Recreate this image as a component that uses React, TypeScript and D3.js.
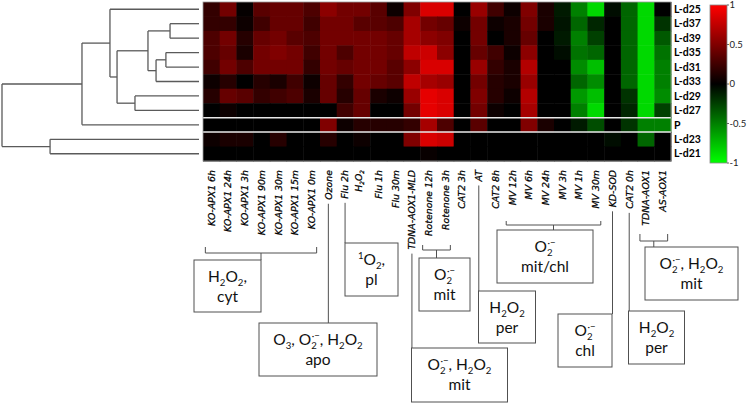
import React, { useEffect, useRef } from "react";
import * as d3 from "d3";

const W = 747;
const H = 403;

const rowLabels = ["L-d25", "L-d37", "L-d39", "L-d35", "L-d31", "L-d33", "L-d29", "L-d27", "P", "L-d23", "L-d21"];

const colLabels = [
  "KO-APX1 6h", "KO-APX1 24h", "KO-APX1 3h", "KO-APX1 90m", "KO-APX1 30m", "KO-APX1 15m", "KO-APX1 0m",
  "Ozone", "Flu 2h", "H2O2", "Flu 1h", "Flu 30m", "TDNA-AOX1-MLD", "Rotenone 12h", "Rotenone 3h",
  "CAT2 3h", "AT", "CAT2 8h", "MV 12h", "MV 6h", "MV 24h", "MV 3h", "MV 1h", "MV 30m",
  "KD-SOD", "CAT2 0h", "TDNA-AOX1", "AS-AOX1",
];

// one row per line, 28 values each (log-ratio, -1..1)
const values: number[][] = [
  [0.2, 0.45, 0.02, 0.35, 0.4, 0.4, 0.3, 0.55, 0.45, 0.45, 0.35, 0.05, 0.5, 0.85, 0.85, 0, 0.6, 0.25, 0.05, 0.5, 0.1, -0.1, -0.5, -0.85, -0.05, -0.4, -0.85, 0],
  [0.2, 0.2, 0.05, 0.25, 0.4, 0.4, 0.25, 0.45, 0.45, 0.35, 0.35, 0.3, 0.65, 0.45, 0.4, 0.05, 0.45, 0.05, 0.1, 0.45, 0.1, -0.08, -0.4, -0.15, 0, -0.4, -0.85, -0.2],
  [0.3, 0.45, 0.15, 0.4, 0.45, 0.35, 0.3, 0.45, 0.45, 0.45, 0.45, 0.4, 0.65, 0.55, 0.5, 0, 0.45, 0, 0.1, 0.4, 0, -0.1, -0.5, -0.25, 0, -0.4, -0.85, -0.35],
  [0.3, 0.4, 0.1, 0.45, 0.5, 0.45, 0.25, 0.45, 0.3, 0.45, 0.45, 0.4, 0.75, 0.8, 0.55, 0, 0.4, 0.25, 0.05, 0.55, 0, -0.05, -0.45, -0.4, 0, -0.4, -0.85, -0.45],
  [0.25, 0.45, 0.3, 0.45, 0.45, 0.45, 0.2, 0.45, 0.4, 0.45, 0.45, 0.35, 0.55, 0.85, 0.85, 0, 0.6, 0.2, 0.1, 0.7, 0, 0, -0.55, -0.75, 0, -0.4, -0.85, -0.5],
  [0.05, 0.15, 0, 0.15, 0.1, 0.25, 0.05, 0.4, 0.2, 0.45, 0.4, 0.35, 0.75, 0.65, 0.6, 0, 0.45, 0.15, 0.1, 0.6, 0, 0, -0.4, -0.55, 0, -0.4, -0.85, -0.5],
  [0.15, 0.4, 0.35, 0.2, 0.25, 0.3, 0.1, 0.4, 0.15, 0.4, 0.1, 0.05, 0.6, 0.9, 0.85, 0, 0.5, 0.15, 0.05, 0.7, 0, 0, -0.6, -0.75, 0, -0.2, -0.85, -0.55],
  [0, 0.05, 0, 0, 0, 0, 0, 0, 0.25, 0.4, 0, 0, 0.45, 0.9, 0.85, 0, 0.45, 0.05, 0, 0.65, 0, 0, -0.5, -0.85, 0, -0.15, -0.85, -0.25],
  [0, 0, 0, 0, 0, 0, 0, 0.5, 0.05, 0.15, 0.15, 0.15, 0.2, 0.65, 0.3, 0, 0.35, 0, 0, 0.5, 0.1, 0, -0.1, -0.3, 0, -0.2, -0.5, -0.5],
  [0.05, 0.1, 0.1, 0, 0.15, 0, 0, 0.15, 0, 0.05, 0, 0, 0.5, 0.85, 0.8, 0, 0, 0, 0, 0, 0, 0, 0, 0, -0.05, 0, -0.4, 0],
  [0, 0, 0, 0, 0, 0, 0, 0, 0, 0, 0, 0, 0, 0.03, 0, 0, 0, 0, 0, 0, 0, 0, 0, 0, 0, 0, 0, 0],
];

const colorTicks = [1, 0.5, 0, -0.5, -1];

// clustering tree, h = merge distance (root = 1)
interface TreeNode { name?: string; h?: number; children?: TreeNode[] }
const tree: TreeNode = {
  h: 1.0,
  children: [
    {
      h: 0.594,
      children: [
        {
          h: 0.452,
          children: [
            { name: "L-d25" },
            {
              h: 0.416,
              children: [
                {
                  h: 0.259,
                  children: [
                    { h: 0.147, children: [{ name: "L-d37" }, { name: "L-d39" }] },
                    {
                      h: 0.218,
                      children: [
                        { h: 0.168, children: [{ name: "L-d35" }, { name: "L-d31" }] },
                        { name: "L-d33" },
                      ],
                    },
                  ],
                },
                { h: 0.325, children: [{ name: "L-d29" }, { name: "L-d27" }] },
              ],
            },
          ],
        },
        { name: "P" },
      ],
    },
    { h: 0.756, children: [{ name: "L-d23" }, { name: "L-d21" }] },
  ],
};

type Part = [string, "n" | "sub" | "sup" | "over"];
const O2r: Part[] = [["O", "n"], ["2", "sub"], ["·−", "over"]];
const H2O2: Part[] = [["H", "n"], ["2", "sub"], ["O", "n"], ["2", "sub"]];

const boxes: { x: number; y: number; w: number; h: number; lines: Part[][] }[] = [
  { x: 194, y: 260, w: 67, h: 52, lines: [[...H2O2, [",", "n"]], [["cyt", "n"]]] },
  { x: 259, y: 323, w: 118, h: 53, lines: [[["O", "n"], ["3", "sub"], [", ", "n"], ...O2r, [", ", "n"], ...H2O2], [["apo", "n"]]] },
  { x: 345, y: 243, w: 53, h: 53, lines: [[["1", "sup"], ["O", "n"], ["2", "sub"], [",", "n"]], [["pl", "n"]]] },
  { x: 419, y: 258, w: 51, h: 53, lines: [O2r, [["mit", "n"]]] },
  { x: 411.5, y: 348, w: 96, h: 54, lines: [[...O2r, [", ", "n"], ...H2O2], [["mit", "n"]]] },
  { x: 497, y: 230, w: 96, h: 53, lines: [O2r, [["mit/chl", "n"]]] },
  { x: 478.5, y: 291, w: 57, h: 52, lines: [H2O2, [["per", "n"]]] },
  { x: 558, y: 314, w: 54, h: 53, lines: [O2r, [["chl", "n"]]] },
  { x: 628.5, y: 311, w: 56, h: 53, lines: [H2O2, [["per", "n"]]] },
  { x: 645, y: 247, w: 93, h: 53, lines: [[...O2r, [", ", "n"], ...H2O2], [["mit", "n"]]] },
];

// single leader lines: column -> y where it meets a box
const leaders = [
  { col: 7, y2: 323 },
  { col: 8, y2: 243 },
  { col: 12, y2: 348 },
  { col: 16, y2: 291 },
  { col: 24, y2: 314 },
  { col: 25, y2: 311 },
];

const brackets = [
  { from: 0, to: 6, y: 253, tick: 6, drop: 260 },
  { from: 13, to: 14, y: 250, tick: 5, drop: 258 },
  { from: 18, to: 23, y: 225, tick: 4, drop: 230 },
  { from: 26, to: 27, y: 241, tick: 7, drop: 247 },
];

function rich(text: d3.Selection<SVGTextElement, unknown, null, undefined>, parts: Part[], fs: number) {
  let shift = 0;
  parts.forEach(([t, m]) => {
    const target = m === "sub" ? fs * 0.28 : m === "sup" || m === "over" ? -fs * 0.4 : 0;
    const ts = text
      .append("tspan")
      .attr("dy", target - shift)
      .attr("font-size", m === "n" ? fs : fs * 0.62)
      .text(t);
    if (m === "over") ts.attr("dx", -fs * 0.33);
    shift = target;
  });
}

const Chart: React.FC = () => {
  const svgRef = useRef<SVGSVGElement>(null);

  useEffect(() => {
    if (!svgRef.current) return;
    const svg = d3.select(svgRef.current);
    svg.selectAll("*").remove();

    const x = d3.scaleBand<number>().domain(d3.range(colLabels.length)).range([203, 671]);
    const y = d3.scaleBand<string>().domain(rowLabels).range([2, 161]);
    const color = d3.scaleLinear<string>().domain([-1, 0, 1]).range(["#00ff00", "#000000", "#ff0000"]);
    const cx = (i: number) => (x(i) as number) + x.bandwidth() / 2;
    const lineColor = "#505050";

    // Heatmap cells
    const g = svg.append("g");
    values.forEach((row, r) => {
      row.forEach((v, c) => {
        g.append("rect")
          .attr("x", x(c) as number)
          .attr("y", y(rowLabels[r]) as number)
          .attr("width", x.bandwidth() + 0.5)
          .attr("height", y.bandwidth() + 0.5)
          .attr("fill", color(v));
      });
    });
    // white separators around P
    [8, 9].forEach((r) => {
      const yy = y(rowLabels[r]) as number;
      svg.append("line")
        .attr("x1", 203).attr("x2", 671).attr("y1", yy).attr("y2", yy)
        .attr("stroke", "#e8e8e8").attr("stroke-width", 1.5);
    });
    svg.append("rect")
      .attr("x", 203).attr("y", 2).attr("width", 468).attr("height", 159)
      .attr("fill", "none").attr("stroke", "#999").attr("stroke-width", 0.8);

    // Row labels
    rowLabels.forEach((lab) => {
      svg.append("text")
        .attr("x", 674)
        .attr("y", (y(lab) as number) + y.bandwidth() / 2)
        .attr("dy", "0.35em")
        .attr("font-family", "Lato, 'Noto Sans', sans-serif")
        .attr("font-weight", "bold")
        .attr("font-size", 10.5)
        .text(lab);
    });

    // Column labels (rotated), measure lengths for leaders
    const labelTop = 170;
    const labelLen: number[] = [];
    colLabels.forEach((lab, i) => {
      const t = svg.append("text")
        .attr("x", cx(i))
        .attr("y", labelTop)
        .attr("dy", "0.36em")
        .attr("transform", `rotate(-90,${cx(i)},${labelTop})`)
        .attr("text-anchor", "end")
        .attr("font-family", "'DejaVu Sans', Verdana, sans-serif")
        .attr("font-style", "italic")
        .attr("font-size", 9.4)
        .attr("fill", "#000")
        .attr("stroke", "#000")
        .attr("stroke-width", 0.25);
      if (lab === "H2O2") rich(t, H2O2, 9.4);
      else t.text(lab);
      labelLen[i] = (t.node() as SVGTextElement).getComputedTextLength();
    });

    // Dendrogram
    const root = d3.hierarchy<TreeNode>(tree);
    const xd = d3.scaleLinear().domain([0, 1]).range([199, 2]);
    const pos = new Map<d3.HierarchyNode<TreeNode>, [number, number]>();
    root.eachAfter((n) => {
      if (!n.children) {
        pos.set(n, [xd(0), (y(n.data.name as string) as number) + y.bandwidth() / 2]);
      } else {
        const ys = n.children.map((c) => (pos.get(c) as [number, number])[1]);
        pos.set(n, [xd(n.data.h as number), d3.mean(ys) as number]);
      }
    });
    const dg = svg.append("g").attr("stroke", "#5a5a5a").attr("stroke-width", 1.3).attr("fill", "none");
    root.each((n) => {
      if (!n.children) return;
      const [nx] = pos.get(n) as [number, number];
      const ys = n.children.map((c) => (pos.get(c) as [number, number])[1]);
      dg.append("line").attr("x1", nx).attr("x2", nx).attr("y1", d3.min(ys) as number).attr("y2", d3.max(ys) as number);
      n.children.forEach((c) => {
        const [chx, chy] = pos.get(c) as [number, number];
        dg.append("line").attr("x1", nx).attr("x2", chx).attr("y1", chy).attr("y2", chy);
      });
    });

    // Colour bar
    const yc = d3.scaleLinear().domain([1, -1]).range([5, 163]);
    const defs = svg.append("defs");
    const grad = defs.append("linearGradient").attr("id", "cbar").attr("x1", 0).attr("x2", 0).attr("y1", 0).attr("y2", 1);
    d3.range(1, -1.001, -0.1).forEach((v, i, arr) => {
      grad.append("stop").attr("offset", i / (arr.length - 1)).attr("stop-color", color(v));
    });
    svg.append("rect")
      .attr("x", 710).attr("y", yc(1)).attr("width", 17).attr("height", yc(-1) - yc(1))
      .attr("fill", "url(#cbar)").attr("stroke", "#888").attr("stroke-width", 0.8);
    colorTicks.forEach((v) => {
      svg.append("line").attr("x1", 727).attr("x2", 729).attr("y1", yc(v)).attr("y2", yc(v)).attr("stroke", "#666");
      svg.append("text")
        .attr("x", 729.5)
        .attr("y", yc(v))
        .attr("dy", "0.35em")
        .attr("font-family", "Lato, sans-serif")
        .attr("font-size", 9.5)
        .attr("fill", "#222")
        .text(String(v));
    });

    // Annotation leaders and brackets
    const ann = svg.append("g").attr("stroke", lineColor).attr("stroke-width", 1).attr("fill", "none");
    leaders.forEach((l) => {
      ann.append("line")
        .attr("x1", cx(l.col)).attr("x2", cx(l.col))
        .attr("y1", labelTop + labelLen[l.col] + 4).attr("y2", l.y2);
    });
    brackets.forEach((b) => {
      const x1 = cx(b.from) - 6;
      const x2 = cx(b.to) + 5;
      ann.append("path").attr("d", `M${x1},${b.y - b.tick}V${b.y}H${x2}V${b.y - b.tick}`);
      ann.append("line").attr("x1", (x1 + x2) / 2).attr("x2", (x1 + x2) / 2).attr("y1", b.y).attr("y2", b.drop);
    });

    // Boxes
    boxes.forEach((b) => {
      svg.append("rect")
        .attr("x", b.x).attr("y", b.y).attr("width", b.w).attr("height", b.h)
        .attr("fill", "none").attr("stroke", lineColor).attr("stroke-width", 1);
      b.lines.forEach((ln, i) => {
        const t = svg.append("text")
          .attr("x", b.x + b.w / 2)
          .attr("y", b.y + 22 + i * 20)
          .attr("text-anchor", "middle")
          .attr("font-family", "Lato, 'Open Sans', sans-serif")
          .attr("font-size", 15.5)
          .attr("fill", "#111");
        rich(t, ln, 15.5);
      });
    });
  }, []);

  return <svg ref={svgRef} width={W} height={H} style={{ display: "block", background: "#fff" }} />;
};

export default function App() {
  return (
    <div style={{ position: "fixed", left: 0, top: 0, width: W, height: H, background: "#fff" }}>
      <Chart />
    </div>
  );
}
